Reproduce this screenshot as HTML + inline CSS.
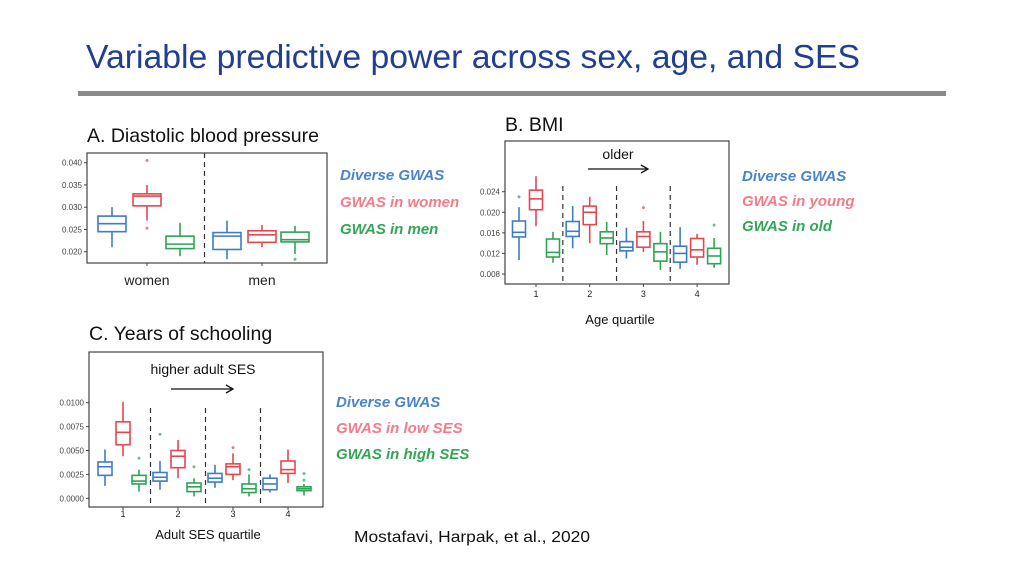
<!DOCTYPE html>
<html><head><meta charset="utf-8"><style>
html,body{margin:0;padding:0;background:#fff}
svg{display:block}
text{font-family:"Liberation Sans",sans-serif}
</style></head><body>
<svg id="s" width="1024" height="576" viewBox="0 0 1024 576">
<text x="86" y="68" font-size="33" fill="#203f93" textLength="774" lengthAdjust="spacingAndGlyphs">Variable predictive power across sex, age, and SES</text>
<rect x="78" y="91" width="868" height="5" fill="#8a8a8a"/>
<text x="354" y="542" font-size="16" fill="#111" textLength="236" lengthAdjust="spacingAndGlyphs">Mostafavi, Harpak, et al., 2020</text>
<g id="g"></g>
</svg>
<script>
// Panel A: Diastolic blood pressure
const aCats = ["women","men"];
const aTicks = [0.020,0.025,0.030,0.035,0.040];
const aTickLabels = ["0.020","0.025","0.030","0.035","0.040"];
const aBlue  = [[0.021,0.0245,0.0263,0.028,0.030],[0.0183,0.0205,0.0235,0.0243,0.027]];
const aRed   = [[0.027,0.0303,0.0325,0.033,0.035],[0.021,0.0221,0.0238,0.0247,0.026]];
const aGreen = [[0.019,0.0207,0.0217,0.0235,0.0265],[0.0195,0.0222,0.0227,0.0244,0.0258]];
const aOutBlue=[[],[]], aOutRed=[[0.0405,0.0253],[]], aOutGreen=[[],[0.0183]];
const aLegend = ["Diverse GWAS","GWAS in women","GWAS in men"];
// Panel B: BMI
const bCats = ["1","2","3","4"];
const bTicks = [0.008,0.012,0.016,0.020,0.024];
const bTickLabels = ["0.008","0.012","0.016","0.020","0.024"];
const bBlue  = [[0.0107,0.0152,0.0161,0.0183,0.021],[0.013,0.0153,0.0163,0.0182,0.0212],[0.011,0.0125,0.0132,0.0143,0.017],[0.009,0.0103,0.012,0.0134,0.0171]];
const bRed   = [[0.0173,0.0205,0.0226,0.0243,0.027],[0.014,0.0176,0.0200,0.0212,0.023],[0.0123,0.0132,0.0153,0.0162,0.0183],[0.0098,0.0113,0.0127,0.0149,0.0158]];
const bGreen = [[0.0102,0.0113,0.0122,0.0148,0.0162],[0.0117,0.0139,0.015,0.0162,0.0181],[0.0088,0.0105,0.0123,0.0139,0.0162],[0.0092,0.010,0.0115,0.013,0.015]];
const bOutBlue=[[0.023],[],[],[]], bOutRed=[[],[],[0.0209],[]], bOutGreen=[[],[],[],[0.0175]];
const bLegend = ["Diverse GWAS","GWAS in young","GWAS in old"];
// Panel C: Years of schooling
const cCats = ["1","2","3","4"];
const cTicks = [0,0.0025,0.005,0.0075,0.01];
const cTickLabels = ["0.0000","0.0025","0.0050","0.0075","0.0100"];
const cBlue  = [[0.0013,0.0024,0.0033,0.0038,0.0051],[0.0009,0.0018,0.0022,0.0027,0.0039],[0.0011,0.0017,0.0021,0.0026,0.0035],[0.0006,0.0009,0.0015,0.0021,0.0025]];
const cRed   = [[0.0044,0.0056,0.0069,0.008,0.0101],[0.0021,0.0032,0.0044,0.005,0.0061],[0.0019,0.0025,0.0033,0.0036,0.0047],[0.0016,0.0026,0.003,0.0039,0.0051]];
const cGreen = [[0.0007,0.0015,0.0018,0.0024,0.003],[0.0002,0.0007,0.0012,0.0016,0.0021],[0.0002,0.0006,0.001,0.0015,0.0025],[0.0003,0.0008,0.001,0.0012,0.0015]];
const cOutBlue=[[],[0.0067],[],[]], cOutRed=[[],[],[0.0053],[]], cOutGreen=[[0.0042],[0.0033],[0.003],[0.0019,0.0026]];
const cLegend = ["Diverse GWAS","GWAS in low SES","GWAS in high SES"];

const NS="http://www.w3.org/2000/svg";
const G=document.getElementById('g');
const COL=["#3d7cc6","#e4474f","#2fa354"];
const LCOL=["#4a84ca","#f27d88","#33a656"];
function mk(tag,attrs,parent,txt){const e=document.createElementNS(NS,tag);for(const k in attrs)e.setAttribute(k,attrs[k]);if(txt!==undefined)e.textContent=txt;(parent||G).appendChild(e);return e;}

function panel(p){
  const g=mk('g',{});
  
  
  const y=v=>p.y0+(v-p.v0)*(p.y1-p.y0)/(p.v1-p.v0);
  const x=i=>p.cx0+i*p.step;
  const t=mk('text',{x:p.titleX,y:p.titleY,'font-size':19.5,fill:'#111'},g,p.title);
  
  
  const fr=mk('rect',{x:p.fx0,y:p.fy0,width:p.fx1-p.fx0,height:p.fy1-p.fy0,fill:'#fff',stroke:'#444','stroke-width':1.2},g);
  
  
  p.ticks.forEach((v,i)=>{
    mk('line',{x1:p.fx0-3,x2:p.fx0,y1:y(v),y2:y(v),stroke:'#444'},g);
    const tl=mk('text',{x:p.fx0-5,y:y(v)+3,'font-size':8,fill:'#444','text-anchor':'end'},g,p.tickLabels[i]);
    
    
  });
  p.cats.forEach((c,i)=>{
    mk('line',{x1:x(i),x2:x(i),y1:p.fy1,y2:p.fy1+3,stroke:'#444'},g);
    const cl=mk('text',{x:x(i),y:p.catY,'font-size':p.catSize,fill:'#222','text-anchor':'middle'},g,c);
    
    
    if(i>0){
      const d=mk('line',{x1:x(i)-p.step/2,x2:x(i)-p.step/2,y1:p.dashTop,y2:p.fy1,stroke:'#333','stroke-dasharray':'5,4','stroke-width':1.2},g);
      
      
    }
  });
  [p.blue,p.red,p.green].forEach((ser,s)=>{
    const outs=[p.oBlue,p.oRed,p.oGreen][s];
    ser.forEach((q,i)=>{
      const cx=x(i)+p.off[s], w=p.bw;
      const bg=mk('g',{stroke:COL[s],'stroke-width':1.6,fill:'none'},g);
      
      
      mk('line',{x1:cx,x2:cx,y1:y(q[0]),y2:y(q[1])},bg);
      mk('line',{x1:cx,x2:cx,y1:y(q[3]),y2:y(q[4])},bg);
      mk('rect',{x:cx-w/2,y:y(q[3]),width:w,height:y(q[1])-y(q[3])},bg);
      mk('line',{x1:cx-w/2,x2:cx+w/2,y1:y(q[2]),y2:y(q[2])},bg);
      outs[i].forEach(o=>{const c=mk('circle',{cx:cx,cy:y(o),r:1.5,fill:COL[s],stroke:'none',opacity:0.7},g);
        
        });
    });
  });
  p.legend.forEach((l,i)=>{
    const e=mk('text',{x:p.lx,y:p.ly+i*p.lstep,'font-size':15,'font-weight':'bold','font-style':'italic',fill:LCOL[i]},g,l);
    
    
  });
  if(p.note){
    const n=mk('text',{x:p.note.x,y:p.note.y,'font-size':14,fill:'#111','text-anchor':'middle'},g,p.note.t);
    
    
    const a=mk('g',{stroke:'#111','stroke-width':1.3,fill:'none'},g);
    
    
    mk('line',{x1:p.note.ax0,x2:p.note.ax1,y1:p.note.ay,y2:p.note.ay},a);
    mk('polyline',{points:`${p.note.ax1-7},${p.note.ay-4} ${p.note.ax1},${p.note.ay} ${p.note.ax1-7},${p.note.ay+4}`},a);
  }
  if(p.xtitle){
    const xt=mk('text',{x:p.xtitle.x,y:p.xtitle.y,'font-size':13,fill:'#111','text-anchor':'middle'},g,p.xtitle.t);
    
    
  }
}
panel({name:'panel-a-diastolic',title:'A. Diastolic blood pressure',titleX:87,titleY:142,fx0:87,fx1:327,fy0:153,fy1:263,
  v0:0.020,v1:0.040,y0:251.7,y1:162.7,cx0:147,step:115,off:[-35,0,33],bw:28,cats:aCats,catY:285,catSize:14,dashTop:153,
  ticks:aTicks,tickLabels:aTickLabels,blue:aBlue,red:aRed,green:aGreen,oBlue:aOutBlue,oRed:aOutRed,oGreen:aOutGreen,
  legend:aLegend,lx:340,ly:180,lstep:27});
panel({name:'panel-b-bmi',title:'B. BMI',titleX:505,titleY:131,fx0:505,fx1:729,fy0:141,fy1:284,
  v0:0.008,v1:0.024,y0:274,y1:191.7,cx0:536,step:53.7,off:[-17,0,17],bw:13,cats:bCats,catY:297,catSize:9,dashTop:186,
  ticks:bTicks,tickLabels:bTickLabels,blue:bBlue,red:bRed,green:bGreen,oBlue:bOutBlue,oRed:bOutRed,oGreen:bOutGreen,
  legend:bLegend,lx:742,ly:181,lstep:25,note:{t:'older',x:618,y:159,ax0:588,ax1:648,ay:169},xtitle:{x:620,y:324,t:'Age quartile'}});
panel({name:'panel-c-schooling',title:'C. Years of schooling',titleX:89,titleY:340,fx0:89,fx1:323,fy0:352,fy1:507,
  v0:0,v1:0.01,y0:498.3,y1:402.7,cx0:123,step:55,off:[-18,0,16],bw:14,cats:cCats,catY:517,catSize:9,dashTop:408,
  ticks:cTicks,tickLabels:cTickLabels,blue:cBlue,red:cRed,green:cGreen,oBlue:cOutBlue,oRed:cOutRed,oGreen:cOutGreen,
  legend:cLegend,lx:336,ly:407,lstep:26,note:{t:'higher adult SES',x:203,y:374,ax0:171,ax1:233,ay:389},xtitle:{x:208,y:539,t:'Adult SES quartile'}});
</script>
</body></html>
